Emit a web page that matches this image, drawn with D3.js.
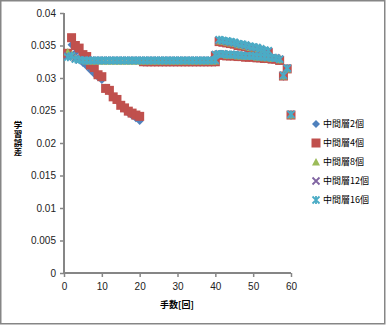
<!DOCTYPE html>
<html>
<head>
<meta charset="utf-8">
<script src="https://cdn.jsdelivr.net/npm/d3@7/dist/d3.min.js"></script>
<style>
  html, body { margin: 0; padding: 0; background: #fff; }
  svg { display: block; }
  text { font-family: "Liberation Sans", Arial, sans-serif; }
  .jp { font-family: "Noto Sans CJK JP", sans-serif; }
  .vertical { writing-mode: vertical-rl; text-orientation: upright; }
</style>
</head>
<body>
<svg id="chart" width="387" height="326"></svg>
<script>
// Move numbers for the three parts of each run
const movesEarly = [1,2,3,4,5,6,7,8,9,10,11,12,13,14,15,16,17,18,19,20,
                    21,22,23,24,25,26,27,28,29,30,31,32,33,34,35,36,37,38,39,40];
const movesLate  = [40,41,42,43,44,45,46,47,48,49,50,51,52,53,54,55,56,57,58,59,60];
const movesUpper = [41,42,43,44,45,46,47,48,49,50,51,52,53,54];

// 中間層2個
const err2Early = [0.0335,0.0351,0.0339,0.0330,0.0323,0.0318,0.0312,0.0306,0.0301,0.0297,
                   0.0285,0.0279,0.0271,0.0265,0.0257,0.0252,0.0246,0.0242,0.0238,0.0234,
                   0.0324,0.0324,0.0324,0.0324,0.0324,0.0324,0.0324,0.0324,0.0324,0.0324,
                   0.0324,0.0324,0.0324,0.0324,0.0324,0.0324,0.0324,0.0324,0.0324,0.0324];
const err2Late  = [0.0333,0.0334,0.0334,0.0333,0.0333,0.0333,0.0332,0.0332,0.0331,0.0331,
                   0.0331,0.0330,0.0330,0.0329,0.0329,0.0328,0.0328,0.0326,0.0302,0.0313,0.0242];
const err2Upper = [0.0355,0.0354,0.0353,0.0352,0.0351,0.0349,0.0348,0.0347,0.0345,0.0344,
                   0.0343,0.0341,0.0339,0.0338];

// 中間層4個
const err4Early = [0.0338,0.0362,0.0350,0.0346,0.0336,0.0333,0.0320,0.0316,0.0305,0.0302,
                   0.0284,0.0281,0.0271,0.0267,0.0258,0.0254,0.0249,0.0246,0.0243,0.0241,
                   0.0325,0.0325,0.0325,0.0325,0.0325,0.0325,0.0325,0.0325,0.0325,0.0325,
                   0.0325,0.0325,0.0325,0.0325,0.0325,0.0325,0.0325,0.0325,0.0325,0.0325];
const err4Late  = [0.0334,0.0335,0.0335,0.0334,0.0334,0.0334,0.0333,0.0333,0.0332,0.0332,
                   0.0332,0.0331,0.0331,0.0330,0.0330,0.0329,0.0329,0.0327,0.0303,0.0314,0.0243];
const err4Upper = [0.0356,0.0355,0.0354,0.0353,0.0352,0.0350,0.0349,0.0348,0.0346,0.0345,
                   0.0344,0.0342,0.0340,0.0339];

// 中間層8個
const err8Early = [0.0340,0.0336,0.0331,0.0329,0.0327,0.0326,0.0326,0.0326,0.0326,0.0326,
                   0.0326,0.0326,0.0326,0.0326,0.0326,0.0326,0.0326,0.0326,0.0326,0.0326,
                   0.0326,0.0326,0.0326,0.0326,0.0326,0.0326,0.0326,0.0326,0.0326,0.0326,
                   0.0326,0.0326,0.0326,0.0326,0.0326,0.0326,0.0326,0.0326,0.0326,0.0326];
const err8Late  = [0.0335,0.0336,0.0336,0.0335,0.0335,0.0335,0.0334,0.0334,0.0333,0.0333,
                   0.0333,0.0332,0.0332,0.0331,0.0331,0.0330,0.0330,0.0328,0.0303,0.0314,0.0243];
const err8Upper = [0.0357,0.0356,0.0355,0.0354,0.0353,0.0351,0.0350,0.0349,0.0347,0.0346,
                   0.0345,0.0343,0.0341,0.0340];

// 中間層12個
const err12Early = [0.0334,0.0333,0.0330,0.0328,0.0327,0.0327,0.0327,0.0327,0.0327,0.0327,
                    0.0327,0.0327,0.0327,0.0327,0.0327,0.0327,0.0327,0.0327,0.0327,0.0327,
                    0.0327,0.0327,0.0327,0.0327,0.0327,0.0327,0.0327,0.0327,0.0327,0.0327,
                    0.0327,0.0327,0.0327,0.0327,0.0327,0.0327,0.0327,0.0327,0.0327,0.0327];
const err12Late  = [0.0336,0.0337,0.0337,0.0336,0.0336,0.0336,0.0335,0.0335,0.0334,0.0334,
                    0.0334,0.0333,0.0333,0.0332,0.0332,0.0331,0.0331,0.0329,0.0304,0.0315,0.0244];
const err12Upper = [0.0358,0.0357,0.0356,0.0355,0.0354,0.0352,0.0351,0.0350,0.0348,0.0347,
                    0.0346,0.0344,0.0342,0.0341];

// 中間層16個
const err16Early = [0.0332,0.0334,0.0329,0.0328,0.0327,0.0327,0.0327,0.0327,0.0327,0.0327,
                    0.0327,0.0327,0.0327,0.0327,0.0327,0.0327,0.0327,0.0327,0.0327,0.0327,
                    0.0327,0.0327,0.0327,0.0327,0.0327,0.0327,0.0327,0.0327,0.0327,0.0327,
                    0.0327,0.0327,0.0327,0.0327,0.0327,0.0327,0.0327,0.0327,0.0327,0.0327];
const err16Late  = [0.0336,0.0337,0.0337,0.0336,0.0336,0.0336,0.0335,0.0335,0.0334,0.0334,
                    0.0334,0.0333,0.0333,0.0332,0.0332,0.0331,0.0331,0.0329,0.0304,0.0315,0.0244];
const err16Upper = [0.0359,0.0358,0.0357,0.0356,0.0355,0.0353,0.0352,0.0351,0.0349,0.0348,
                    0.0347,0.0345,0.0343,0.0342];

const seriesNames  = ["中間層2個","中間層4個","中間層8個","中間層12個","中間層16個"];
const seriesColors = ["#4F81BD","#C0504D","#9BBB59","#8064A2","#4BACC6"];
const seriesShapes = ["diamond","square","triangle","cross","star"];

const xTicks = [0,10,20,30,40,50,60];
const yTicks = [0,0.005,0.01,0.015,0.02,0.025,0.03,0.035,0.04];
const yTitle = "学習誤差";
const xTitle = "手数[回]";

const runs = [
  [err2Early, err2Late, err2Upper],
  [err4Early, err4Late, err4Upper],
  [err8Early, err8Late, err8Upper],
  [err12Early, err12Late, err12Upper],
  [err16Early, err16Late, err16Upper]
];

function pointsOf(run) {
  const pts = [];
  movesEarly.forEach((m, i) => pts.push([m, run[0][i]]));
  movesLate.forEach((m, i) => pts.push([m, run[1][i]]));
  movesUpper.forEach((m, i) => pts.push([m, run[2][i]]));
  return pts;
}

const svg = d3.select("#chart");

// outer chart frame
svg.append("rect")
  .attr("x", 0.75).attr("y", 0.75)
  .attr("width", 384).attr("height", 323)
  .attr("fill", "#fff")
  .attr("stroke", "#868686").attr("stroke-width", 1.5);

const plot = { left: 64, right: 291, top: 13, bottom: 273 };
const x = d3.scaleLinear().domain([0, 60]).range([plot.left, plot.right]);
const y = d3.scaleLinear().domain([0, 0.04]).range([plot.bottom, plot.top]);

// axes
const axisColor = "#868686";
const yAxis = svg.append("g")
  .attr("transform", `translate(${plot.left},0)`)
  .call(d3.axisLeft(y).tickValues(yTicks).tickSize(4).tickPadding(4)
        .tickFormat(d => d === 0 ? "0" : String(+d.toFixed(3))));
const xAxis = svg.append("g")
  .attr("transform", `translate(0,${plot.bottom})`)
  .call(d3.axisBottom(x).tickValues(xTicks).tickSize(4).tickPadding(6).tickFormat(d3.format("d")));

[yAxis, xAxis].forEach(g => {
  g.select(".domain").attr("stroke", axisColor).attr("stroke-width", 2);
  g.selectAll(".tick line").attr("stroke", axisColor).attr("stroke-width", 1.5);
  g.selectAll(".tick text").attr("fill", "#222").attr("font-size", 10)
    .attr("font-family", "'Liberation Sans', Arial, sans-serif");
});
yAxis.select(".domain").attr("d", `M0,${plot.top}V${plot.bottom}`);
xAxis.select(".domain").attr("d", `M${plot.left},0H${plot.right}`);

// marker shapes
function drawMarker(g, shape, color, cx, cy) {
  if (shape === "diamond") {
    g.append("path").attr("d", `M${cx},${cy-4}L${cx+4},${cy}L${cx},${cy+4}L${cx-4},${cy}Z`)
      .attr("fill", color);
  } else if (shape === "square") {
    g.append("rect").attr("x", cx - 4.5).attr("y", cy - 4.5)
      .attr("width", 9).attr("height", 9).attr("fill", color);
  } else if (shape === "triangle") {
    g.append("path").attr("d", `M${cx},${cy-4}L${cx+4},${cy+3.5}L${cx-4},${cy+3.5}Z`)
      .attr("fill", color);
  } else if (shape === "cross") {
    g.append("path").attr("d", `M${cx-3.5},${cy-3.5}L${cx+3.5},${cy+3.5}M${cx+3.5},${cy-3.5}L${cx-3.5},${cy+3.5}`)
      .attr("stroke", color).attr("stroke-width", 1.8).attr("fill", "none");
  } else {
    g.append("path").attr("d", `M${cx-3.5},${cy-3.5}L${cx+3.5},${cy+3.5}M${cx+3.5},${cy-3.5}L${cx-3.5},${cy+3.5}M${cx},${cy-4}L${cx},${cy+4}`)
      .attr("stroke", color).attr("stroke-width", 1.8).attr("fill", "none");
  }
}

// series markers, drawn in series order
runs.forEach((run, s) => {
  const g = svg.append("g").attr("class", "series");
  pointsOf(run).forEach(([m, v]) => drawMarker(g, seriesShapes[s], seriesColors[s], x(m), y(v)));
});

// legend
const legend = svg.append("g");
seriesNames.forEach((name, i) => {
  const ly = 124 + i * 19;
  drawMarker(legend, seriesShapes[i], seriesColors[i], 316, ly);
  legend.append("text").attr("class", "jp")
    .attr("x", 323).attr("y", ly).attr("dy", "0.35em")
    .attr("font-size", 9).attr("fill", "#000")
    .text(name);
});

// axis titles
svg.append("text").attr("class", "jp")
  .attr("x", 177).attr("y", 305).attr("dy", "0.35em")
  .attr("text-anchor", "middle").attr("font-size", 9).attr("font-weight", "bold")
  .text(xTitle);

// vertical y title, stacked characters
svg.append("text")
  .attr("class", "jp vertical")
  .attr("x", 18)
  .attr("y", 139)
  .attr("text-anchor", "middle")
  .attr("font-size", 8.5)
  .attr("font-weight", "bold")
  .attr("letter-spacing", 0.5)
  .text(yTitle);
</script>
</body>
</html>
